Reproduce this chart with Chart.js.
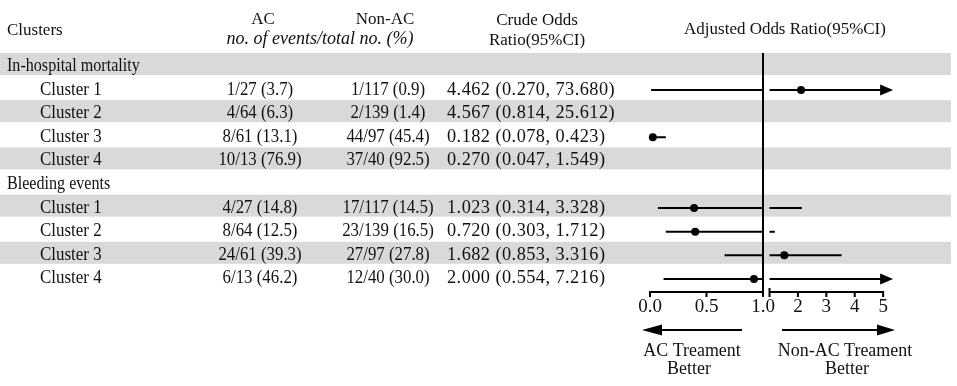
<!DOCTYPE html>
<html><head><meta charset="utf-8">
<script src="https://cdn.jsdelivr.net/npm/chart.js@4/dist/chart.umd.min.js"></script>
<style>html,body{margin:0;padding:0;background:#fff;}#wrap{width:957px;height:386px;position:relative;}canvas{display:block;}</style>
</head><body><div id="wrap"><canvas id="c" width="957" height="386"></canvas></div>
<script>
// ---------- data ----------
const rowLabels = ["In-hospital mortality","Cluster 1","Cluster 2","Cluster 3","Cluster 4","Bleeding events","Cluster 1","Cluster 2","Cluster 3","Cluster 4"];
const isGroupRow = [true,false,false,false,false,true,false,false,false,false];
const acEvents = ["","1/27 (3.7)","4/64 (6.3)","8/61 (13.1)","10/13 (76.9)","","4/27 (14.8)","8/64 (12.5)","24/61 (39.3)","6/13 (46.2)"];
const nonAcEvents = ["","1/117 (0.9)","2/139 (1.4)","44/97 (45.4)","37/40 (92.5)","","17/117 (14.5)","23/139 (16.5)","27/97 (27.8)","12/40 (30.0)"];
const crudeOR = ["","4.462 (0.270, 73.680)","4.567 (0.814, 25.612)","0.182 (0.078, 0.423)","0.270 (0.047, 1.549)","","1.023 (0.314, 3.328)","0.720 (0.303, 1.712)","1.682 (0.853, 3.316)","2.000 (0.554, 7.216)"];
// adjusted odds ratios (null = not shown)
const adjOR = [null, 2.11, null, 0.025, null, null, 0.39, 0.40, 1.52, 0.92];
const adjLo = [null, 0.01, null, 0.005, null, null, 0.07, 0.14, 0.66, 0.12];
const adjHi = [null, 60.0, null, 0.14, null, null, 2.14, 1.19, 3.54, 7.5];
const tickValues = [0, 0.5, 1, 2, 3, 4, 5];
const tickLabels = ["0.0","0.5","1.0","2","3","4","5"];
const headers = {clusters:"Clusters", ac:"AC", nonAc:"Non-AC", sub:"no. of events/total no. (%)", crude1:"Crude Odds", crude2:"Ratio(95%CI)", adj:"Adjusted Odds Ratio(95%CI)"};
const leftNote = ["AC Treament","Better"];
const rightNote = ["Non-AC Treament","Better"];

// ---------- broken axis transform (0..1 linear, 1..5 compressed) ----------
const AXIS_MAX = 5;
const BREAK_GAP = 0.0575, RIGHT_SCALE = 0.2513;
function tx(v, side){
  if (v < 1 || (v === 1 && side === 'L')) return v;
  return 1 + BREAK_GAP + (Math.min(v, AXIS_MAX) - 1) * RIGHT_SCALE;
}

const ciData = [];
const ptData = [];
adjOR.forEach((or, i) => {
  if (or === null) return;
  const lo = adjLo[i], hi = adjHi[i];
  if (lo < 1) {
    ciData.push({x: tx(lo), y: i}, {x: tx(Math.min(hi, 1), 'L'), y: i}, {x: 0, y: null});
  }
  if (hi > 1) {
    ciData.push({x: tx(Math.max(lo, 1), 'R'), y: i}, {x: tx(hi), y: i}, {x: 0, y: null});
  }
  ptData.push({x: tx(or), y: i});
});

const FONT = '"Liberation Serif", "Times New Roman", serif';
const TXT = '#111';
const STRIPE = '#d9d9d9';

function text(ctx, s, x, y, align, size, sx, italic, spacing){
  ctx.save();
  ctx.font = (italic ? 'italic ' : '') + size + 'px ' + FONT;
  ctx.textAlign = align;
  ctx.textBaseline = 'alphabetic';
  ctx.fillStyle = TXT;
  if (spacing) ctx.letterSpacing = spacing + 'px';
  ctx.translate(x, y);
  ctx.scale(sx, 1);
  ctx.fillText(s, 0, 0);
  ctx.restore();
}

const tablePlugin = {
  id: 'forestTable',
  beforeDatasetsDraw(chart){
    const {ctx, scales:{x, y}} = chart;
    ctx.save();
    // stripes
    rowLabels.forEach((lab, i) => {
      const cy = y.getPixelForValue(i);
      if (i % 2 === 0){
        ctx.fillStyle = STRIPE;
        ctx.fillRect(0, cy - 13.5, 951, 22);
      }
    });
    // header
    text(ctx, headers.clusters, 7, 35, 'left', 17.5, 0.97);
    text(ctx, headers.ac, 263, 24, 'center', 17.5, 0.97);
    text(ctx, headers.nonAc, 385, 24, 'center', 17.5, 0.97);
    text(ctx, headers.sub, 320, 44, 'center', 18, 1, true);
    text(ctx, headers.crude1, 537, 25, 'center', 17.5, 0.97);
    text(ctx, headers.crude2, 537, 45, 'center', 17.5, 0.97);
    text(ctx, headers.adj, 785, 34, 'center', 17.5, 0.97);
    // rows
    rowLabels.forEach((lab, i) => {
      const by = y.getPixelForValue(i) + 4.5;
      if (isGroupRow[i]) text(ctx, lab, 7, by, 'left', 18.5, 0.87);
      else text(ctx, lab, 40, by, 'left', 18.5, 0.915);
      if (acEvents[i]) text(ctx, acEvents[i], 260, by, 'center', 18.5, 0.91);
      if (nonAcEvents[i]) text(ctx, nonAcEvents[i], 388, by, 'center', 18.5, 0.91);
      if (crudeOR[i]) text(ctx, crudeOR[i], 447, by, 'left', 18.5, 0.99, false, 0.45);
    });
    // reference line at OR = 1
    const x1 = x.getPixelForValue(tx(1, 'L'));
    const axY = y.getPixelForValue(9) + 13;
    ctx.strokeStyle = '#000';
    ctx.lineWidth = 2;
    ctx.beginPath();
    ctx.moveTo(x1, y.getPixelForValue(0) - 13.5);
    ctx.lineTo(x1, axY + 5);
    ctx.stroke();
    // broken axis
    const xl0 = x.getPixelForValue(tx(0)), xr0 = x.getPixelForValue(tx(1, 'R')), xr1 = x.getPixelForValue(tx(AXIS_MAX));
    ctx.lineWidth = 2;
    ctx.beginPath();
    ctx.moveTo(xl0, axY); ctx.lineTo(x1, axY);
    ctx.moveTo(xr0, axY); ctx.lineTo(xr1, axY);
    ctx.stroke();
    ctx.beginPath();
    tickValues.forEach(v => {
      if (v === 1) return;
      const px = x.getPixelForValue(tx(v));
      ctx.moveTo(px, axY - 1); ctx.lineTo(px, axY + 5);
    });
    ctx.moveTo(xr0, axY - 4); ctx.lineTo(xr0, axY + 5);
    ctx.stroke();
    tickValues.forEach((v, k) => {
      const px = x.getPixelForValue(tx(v, 'L'));
      text(ctx, tickLabels[k], px, axY + 20, 'center', 19, 1);
    });
    // direction arrows
    const ay = axY + 38;
    function arrow(xFrom, xTip, len, half){
      const d = Math.sign(xTip - xFrom);
      ctx.beginPath(); ctx.moveTo(xFrom, ay); ctx.lineTo(xTip - d * len, ay); ctx.stroke();
      ctx.beginPath(); ctx.moveTo(xTip, ay); ctx.lineTo(xTip - d * len, ay - half); ctx.lineTo(xTip - d * len, ay + half); ctx.closePath();
      ctx.fillStyle = '#000'; ctx.fill();
    }
    arrow(742, 642, 20, 5.5);
    arrow(782, 895, 18, 5.5);
    text(ctx, leftNote[0], 692, axY + 64, 'center', 18.5, 0.97);
    text(ctx, leftNote[1], 689, axY + 82, 'center', 18.5, 0.97);
    text(ctx, rightNote[0], 845, axY + 64, 'center', 18.5, 0.97);
    text(ctx, rightNote[1], 847, axY + 82, 'center', 18.5, 0.97);
    ctx.restore();
  },
  afterDatasetsDraw(chart){
    const {ctx, scales:{x, y}} = chart;
    ctx.save();
    ctx.fillStyle = '#000';
    adjOR.forEach((or, i) => {
      if (or === null || adjHi[i] <= AXIS_MAX) return;
      const cy = y.getPixelForValue(i);
      const base = x.getPixelForValue(tx(AXIS_MAX)) - 3;
      ctx.beginPath();
      ctx.moveTo(base + 13, cy);
      ctx.lineTo(base, cy - 5.5);
      ctx.lineTo(base, cy + 5.5);
      ctx.closePath();
      ctx.fill();
    });
    ctx.restore();
  }
};

new Chart(document.getElementById('c'), {
  type: 'scatter',
  data: {
    datasets: [
      {label: 'CI', data: ciData, showLine: true, spanGaps: false, borderColor: '#000', borderWidth: 2, pointRadius: 0, clip: false},
      {label: 'OR', data: ptData, pointRadius: 4, pointBackgroundColor: '#000', pointBorderColor: '#000', borderWidth: 0, clip: false}
    ]
  },
  options: {
    responsive: false,
    devicePixelRatio: 1,
    animation: false,
    events: [],
    layout: {padding: {left: 650, right: 64, top: 54.7, bottom: 95.3}},
    scales: {
      x: {type: 'linear', min: 0, max: 2.150, display: false},
      y: {type: 'linear', min: -0.5, max: 9.5, reverse: true, display: false}
    },
    plugins: {legend: {display: false}, tooltip: {enabled: false}, title: {display: false}}
  },
  plugins: [tablePlugin]
});
</script>
</body></html>
